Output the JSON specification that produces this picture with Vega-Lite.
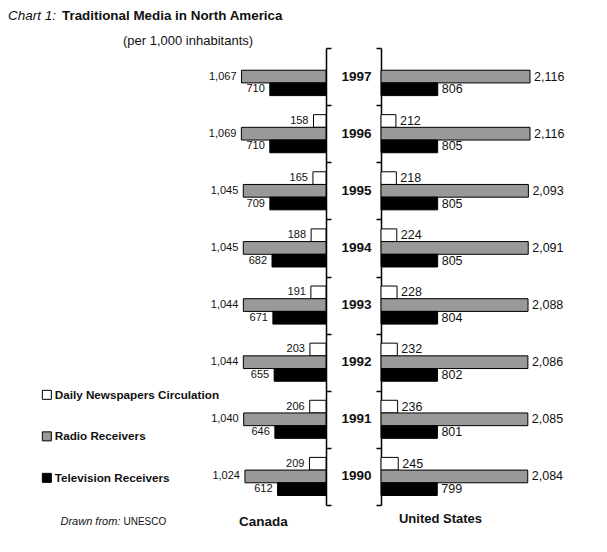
{
  "$schema": "https://vega.github.io/schema/vega-lite/v6.json",
  "padding": {"left": 8, "top": 8, "right": 5, "bottom": 5},
  "background": "white",
  "config": {
    "font": "Liberation Sans",
    "view": {"stroke": null},
    "title": {"color": "#111", "font": "Liberation Sans"},
    "axis": {"titleColor": "#111"}
  },
  "datasets": {
    "media": [
      {"country": "Canada", "year": "1997", "media": "Radio Receivers", "value": 1067},
      {"country": "Canada", "year": "1997", "media": "Television Receivers", "value": 710},
      {"country": "Canada", "year": "1996", "media": "Daily Newspapers Circulation", "value": 158},
      {"country": "Canada", "year": "1996", "media": "Radio Receivers", "value": 1069},
      {"country": "Canada", "year": "1996", "media": "Television Receivers", "value": 710},
      {"country": "Canada", "year": "1995", "media": "Daily Newspapers Circulation", "value": 165},
      {"country": "Canada", "year": "1995", "media": "Radio Receivers", "value": 1045},
      {"country": "Canada", "year": "1995", "media": "Television Receivers", "value": 709},
      {"country": "Canada", "year": "1994", "media": "Daily Newspapers Circulation", "value": 188},
      {"country": "Canada", "year": "1994", "media": "Radio Receivers", "value": 1045},
      {"country": "Canada", "year": "1994", "media": "Television Receivers", "value": 682},
      {"country": "Canada", "year": "1993", "media": "Daily Newspapers Circulation", "value": 191},
      {"country": "Canada", "year": "1993", "media": "Radio Receivers", "value": 1044},
      {"country": "Canada", "year": "1993", "media": "Television Receivers", "value": 671},
      {"country": "Canada", "year": "1992", "media": "Daily Newspapers Circulation", "value": 203},
      {"country": "Canada", "year": "1992", "media": "Radio Receivers", "value": 1044},
      {"country": "Canada", "year": "1992", "media": "Television Receivers", "value": 655},
      {"country": "Canada", "year": "1991", "media": "Daily Newspapers Circulation", "value": 206},
      {"country": "Canada", "year": "1991", "media": "Radio Receivers", "value": 1040},
      {"country": "Canada", "year": "1991", "media": "Television Receivers", "value": 646},
      {"country": "Canada", "year": "1990", "media": "Daily Newspapers Circulation", "value": 209},
      {"country": "Canada", "year": "1990", "media": "Radio Receivers", "value": 1024},
      {"country": "Canada", "year": "1990", "media": "Television Receivers", "value": 612},
      {"country": "United States", "year": "1997", "media": "Radio Receivers", "value": 2116},
      {"country": "United States", "year": "1997", "media": "Television Receivers", "value": 806},
      {"country": "United States", "year": "1996", "media": "Daily Newspapers Circulation", "value": 212},
      {"country": "United States", "year": "1996", "media": "Radio Receivers", "value": 2116},
      {"country": "United States", "year": "1996", "media": "Television Receivers", "value": 805},
      {"country": "United States", "year": "1995", "media": "Daily Newspapers Circulation", "value": 218},
      {"country": "United States", "year": "1995", "media": "Radio Receivers", "value": 2093},
      {"country": "United States", "year": "1995", "media": "Television Receivers", "value": 805},
      {"country": "United States", "year": "1994", "media": "Daily Newspapers Circulation", "value": 224},
      {"country": "United States", "year": "1994", "media": "Radio Receivers", "value": 2091},
      {"country": "United States", "year": "1994", "media": "Television Receivers", "value": 805},
      {"country": "United States", "year": "1993", "media": "Daily Newspapers Circulation", "value": 228},
      {"country": "United States", "year": "1993", "media": "Radio Receivers", "value": 2088},
      {"country": "United States", "year": "1993", "media": "Television Receivers", "value": 804},
      {"country": "United States", "year": "1992", "media": "Daily Newspapers Circulation", "value": 232},
      {"country": "United States", "year": "1992", "media": "Radio Receivers", "value": 2086},
      {"country": "United States", "year": "1992", "media": "Television Receivers", "value": 802},
      {"country": "United States", "year": "1991", "media": "Daily Newspapers Circulation", "value": 236},
      {"country": "United States", "year": "1991", "media": "Radio Receivers", "value": 2085},
      {"country": "United States", "year": "1991", "media": "Television Receivers", "value": 801},
      {"country": "United States", "year": "1990", "media": "Daily Newspapers Circulation", "value": 245},
      {"country": "United States", "year": "1990", "media": "Radio Receivers", "value": 2084},
      {"country": "United States", "year": "1990", "media": "Television Receivers", "value": 799}
    ]
  },
  "data": {"name": "media"},
  "spacing": 0,
  "bounds": "flush",
  "resolve": {"scale": {"x": "independent", "y": "independent", "color": "shared"}},
  "hconcat": [
    {
      "width": 95,
      "height": 457,
      "title": {"text": "Traditional Media in North America", "anchor": "start", "frame": "group", "dx": -169, "fontSize": 13.4, "fontWeight": "bold", "offset": 25},
      "transform": [{"filter": "datum.country === 'Canada'"}],
      "encoding": {
        "y": {
          "field": "year", "type": "nominal", "sort": "descending",
          "scale": {"paddingInner": 0, "paddingOuter": 0},
          "axis": {
            "orient": "right", "labels": false, "tickBand": "extent", "grid": false,
            "domainColor": "#000", "domainWidth": 1.5, "tickColor": "#000", "tickWidth": 1.5, "tickSize": 5,
            "title": "Drawn from:", "titleAngle": 0, "titleX": -266, "titleY": 473,
            "titleAlign": "left", "titleBaseline": "middle", "titleFontStyle": "italic",
            "titleFontWeight": "normal", "titleFontSize": 11
          }
        },
        "yOffset": {
          "field": "media", "type": "nominal",
          "scale": {"domain": ["Daily Newspapers Circulation", "Radio Receivers", "Television Receivers"], "paddingInner": 0, "paddingOuter": 0.75}
        },
        "x": {
          "field": "value", "type": "quantitative",
          "scale": {"domain": [0, 1200], "reverse": true},
          "axis": {
            "domain": false, "ticks": false, "labels": false, "grid": false,
            "title": "Canada", "titleX": 32, "titleY": 16, "titleBaseline": "middle",
            "titleAlign": "center", "titleFontSize": 13.5, "titleFontWeight": "bold"
          }
        }
      },
      "layer": [
        {
          "mark": {"type": "bar", "stroke": "#000", "strokeWidth": 1},
          "encoding": {
            "color": {
              "field": "media", "type": "nominal",
              "scale": {"domain": ["Daily Newspapers Circulation", "Radio Receivers", "Television Receivers"], "range": ["#ffffff", "#999999", "#000000"]},
              "legend": {
                "title": null, "orient": "none", "legendX": -190, "legendY": 341,
                "symbolType": "square", "symbolSize": 81, "symbolStrokeColor": "#000", "symbolStrokeWidth": 1,
                "labelFontSize": 11.7, "labelFontWeight": "bold", "labelColor": "#111",
                "rowPadding": 27.5, "labelOffset": 2, "labelLimit": 300
              }
            }
          }
        },
        {
          "mark": {"type": "text", "align": "right", "dx": -5, "fontSize": 11, "color": "#111"},
          "encoding": {"text": {"field": "value", "type": "quantitative", "format": ","}}
        }
      ]
    },
    {
      "width": 55,
      "height": 457,
      "title": {"text": "(per 1,000 inhabitants)", "anchor": "start", "frame": "group", "dx": -203, "fontSize": 13, "fontWeight": "normal", "offset": 0},
      "transform": [{"filter": "datum.country === 'Canada' && datum.media === 'Radio Receivers'"}],
      "mark": {"type": "text", "fontSize": 13.5, "fontWeight": "bold", "dx": 3, "color": "#111"},
      "encoding": {
        "y": {"field": "year", "type": "nominal", "sort": "descending", "scale": {"paddingInner": 0, "paddingOuter": 0}, "axis": null},
        "text": {"field": "year", "type": "nominal"}
      }
    },
    {
      "width": 169,
      "height": 457,
      "title": {"text": "Chart 1:", "anchor": "start", "frame": "group", "dx": -373, "fontSize": 13.5, "fontStyle": "italic", "fontWeight": "normal", "offset": 25},
      "transform": [{"filter": "datum.country === 'United States'"}],
      "encoding": {
        "y": {
          "field": "year", "type": "nominal", "sort": "descending",
          "scale": {"paddingInner": 0, "paddingOuter": 0},
          "axis": {
            "orient": "left", "labels": false, "tickBand": "extent", "grid": false,
            "domainColor": "#000", "domainWidth": 1.5, "tickColor": "#000", "tickWidth": 1.5, "tickSize": 5,
            "title": "UNESCO", "titleAngle": 0, "titleX": -258, "titleY": 473,
            "titleAlign": "left", "titleBaseline": "middle",
            "titleFontWeight": "normal", "titleFontSize": 10
          }
        },
        "yOffset": {
          "field": "media", "type": "nominal",
          "scale": {"domain": ["Daily Newspapers Circulation", "Radio Receivers", "Television Receivers"], "paddingInner": 0, "paddingOuter": 0.75}
        },
        "x": {
          "field": "value", "type": "quantitative",
          "scale": {"domain": [0, 2400]},
          "axis": {
            "domain": false, "ticks": false, "labels": false, "grid": false,
            "title": "United States", "titleX": 59, "titleY": 13, "titleBaseline": "middle",
            "titleAlign": "center", "titleFontSize": 13, "titleFontWeight": "bold"
          }
        }
      },
      "layer": [
        {
          "mark": {"type": "bar", "stroke": "#000", "strokeWidth": 1},
          "encoding": {
            "color": {
              "field": "media", "type": "nominal",
              "scale": {"domain": ["Daily Newspapers Circulation", "Radio Receivers", "Television Receivers"], "range": ["#ffffff", "#999999", "#000000"]},
              "legend": {
                "title": null, "orient": "none", "legendX": -190, "legendY": 341,
                "symbolType": "square", "symbolSize": 81, "symbolStrokeColor": "#000", "symbolStrokeWidth": 1,
                "labelFontSize": 11.7, "labelFontWeight": "bold", "labelColor": "#111",
                "rowPadding": 27.5, "labelOffset": 2, "labelLimit": 300
              }
            }
          }
        },
        {
          "mark": {"type": "text", "align": "left", "dx": 4, "fontSize": 12.5, "color": "#111"},
          "encoding": {"text": {"field": "value", "type": "quantitative", "format": ","}}
        }
      ]
    }
  ]
}
